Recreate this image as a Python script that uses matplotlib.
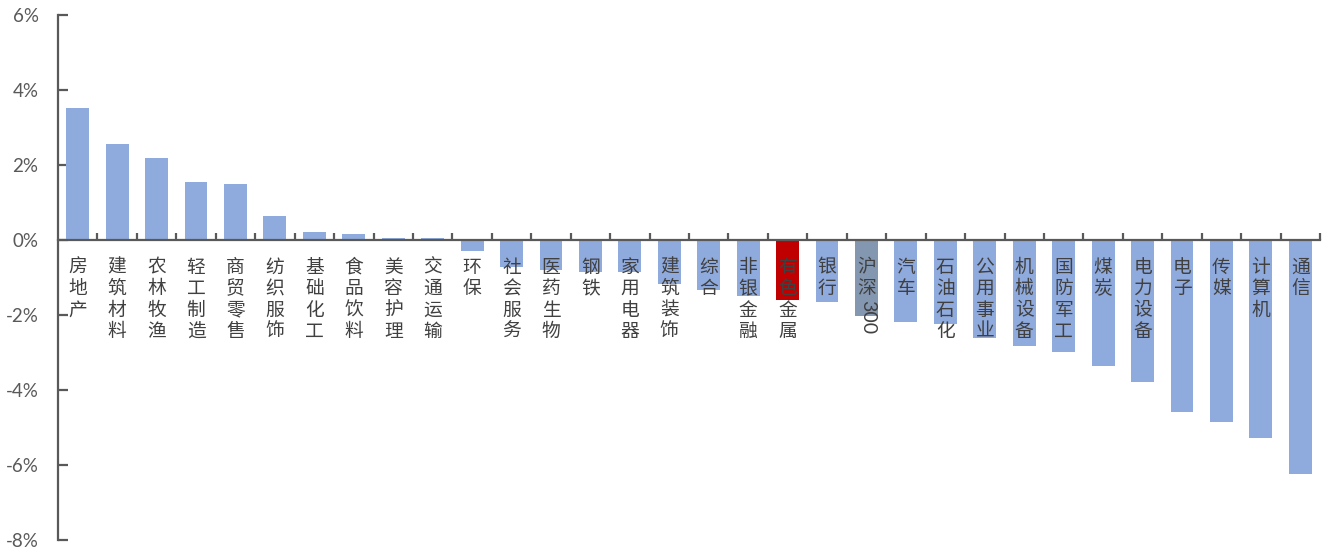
import matplotlib
matplotlib.use("Agg")
import matplotlib.pyplot as plt
from matplotlib.ticker import MultipleLocator, FixedLocator, FuncFormatter

categories = ["房地产", "建筑材料", "农林牧渔", "轻工制造", "商贸零售", "纺织服饰", "基础化工",
              "食品饮料", "美容护理", "交通运输", "环保", "社会服务", "医药生物", "钢铁",
              "家用电器", "建筑装饰", "综合", "非银金融", "有色金属", "银行", "沪深300",
              "汽车", "石油石化", "公用事业", "机械设备", "国防军工", "煤炭", "电力设备",
              "电子", "传媒", "计算机", "通信"]
values = [3.52, 2.56, 2.19, 1.55, 1.49, 0.64, 0.21, 0.16, 0.05, 0.05,
          -0.30, -0.73, -0.80, -0.85, -0.85, -1.17, -1.33, -1.49, -1.60, -1.65, -2.03,
          -2.19, -2.24, -2.61, -2.83, -2.99, -3.36, -3.79, -4.59, -4.85, -5.28, -6.24]
highlight = {"有色金属": "#C00000", "沪深300": "#8497B0"}
base_color = "#8FAADC"

fig = plt.figure(figsize=(13.25, 5.52), dpi=100)
ax = fig.add_axes([58/1325, 12/552, (1320-58)/1325, (540-15)/552])

n = len(categories)
x = list(range(n))
colors = [highlight.get(c, base_color) for c in categories]
ax.bar(x, values, width=0.58, color=colors, zorder=2)

ax.set_xlim(-0.5, n - 0.5)
ax.set_ylim(-8, 6)
ax.yaxis.set_major_locator(MultipleLocator(2))
ax.yaxis.set_major_formatter(FuncFormatter(lambda v, p: f"{v:.0f}%"))

gray = "#595959"
for s in ["top", "right"]:
    ax.spines[s].set_visible(False)
ax.spines["bottom"].set_position(("data", 0))
for s in ["left", "bottom"]:
    ax.spines[s].set_color(gray)
    ax.spines[s].set_linewidth(1.6)
    ax.spines[s].set_zorder(3)

ax.xaxis.set_major_locator(FixedLocator([i + 0.5 for i in range(n)]))
ax.xaxis.set_major_formatter(FuncFormatter(lambda v, p: ""))
ax.tick_params(axis="x", direction="in", length=5, width=1.6, color=gray)
ax.tick_params(axis="y", direction="in", length=7, width=1.6, color=gray,
               labelsize=13.5, labelcolor=gray, pad=14)
for lab in ax.get_yticklabels():
    lab.set_family(["Lato", "DejaVu Sans"])

cjk = ["Noto Sans CJK SC", "DejaVu Sans"]
txtcol = "#404040"
fs = 13.5
for i, name in enumerate(categories):
    if name == "沪深300":
        ax.annotate("沪\n深", xy=(i, 0), xytext=(0, -12), textcoords="offset points",
                    ha="center", va="top", fontsize=fs, family=cjk, color=txtcol,
                    linespacing=1.03, zorder=4)
        ax.annotate("300", xy=(i, 0), xytext=(1, -43), textcoords="offset points",
                    ha="center", va="top", fontsize=14, family=["Lato", "DejaVu Sans"],
                    color=txtcol, rotation=270, zorder=4)
    else:
        ax.annotate("\n".join(name), xy=(i, 0), xytext=(0, -12), textcoords="offset points",
                    ha="center", va="top", fontsize=fs, family=cjk, color=txtcol,
                    linespacing=1.03, zorder=4)

fig.savefig("out.png", dpi=100)
